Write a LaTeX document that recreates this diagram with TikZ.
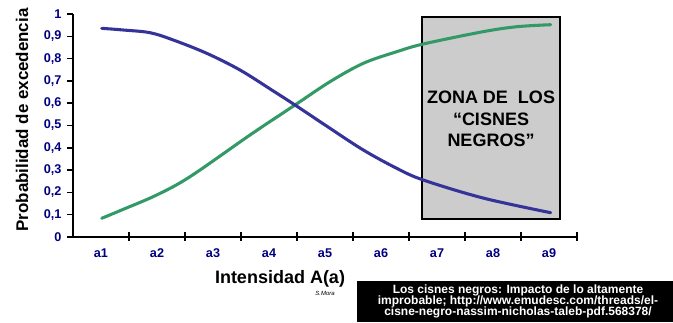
\documentclass[tikz,border=0pt]{standalone}
\usepackage{fontspec}
\setmainfont{Liberation Sans}
\usetikzlibrary{positioning}
\definecolor{curvablue}{RGB}{51,51,153}
\definecolor{curvagreen}{RGB}{51,153,102}
\definecolor{ejenavy}{RGB}{0,0,128}
\definecolor{zonagray}{RGB}{204,204,204}
\tikzset{
  etiq/.style={font=\bfseries\fontsize{9.5}{10}\selectfont, text=ejenavy, inner sep=1pt},
  titulo/.style={font=\bfseries\fontsize{13.5}{16}\selectfont, inner sep=1pt},
  curva/.style={line width=2.3pt, line cap=round},
}

\begin{document}
\begin{tikzpicture}[x=0.75pt,y=-0.75pt]
  \useasboundingbox (0,0) rectangle (673,322);
  \def \ox {73}   % origin, pixels
  \def \oy {237}
  \def \dx {56}   % width of one class a_i
  \def \dy {22.3} % 0.1 of probability

  % zona de los cisnes negros
  \draw[fill=zonagray, line width=0.8pt] (422,17) rectangle (560,219);
  \node[titulo, align=center] (zona) at (491,119)
    {ZONA DE\ \ LOS\\“CISNES\\NEGROS”};

  % curves
  \draw[curva, curvagreen] plot[smooth, tension=0.55] coordinates {
    (101.7,218.3) (123.3,209.3) (156.7,195) (190,176.7) (250,135) (295,105)
    (330,81.7) (363.3,63.3) (396.7,51.7) (423.3,44) (483,31.7) (517,26.7)
    (550.7,24.7)};
  \draw[curva, curvablue] plot[smooth, tension=0.55] coordinates {
    (101.7,28.3) (123.3,30) (150,32.7) (173.3,40) (206.7,53.3) (240,70)
    (273.3,91) (295,105) (330,128.3) (363.3,150) (396.7,168.3) (423.3,180)
    (483,198) (550.7,212.7)};

  % axes
  \coordinate (O) at (\ox,\oy);
  \coordinate (ytop) at (\ox,14);
  \coordinate (xend) at (577,\oy);
  \draw[line width=1.5pt] (ytop) -- (O);
  \draw[line width=1.1pt] (O) -- (xend);

  \foreach \i/\t in {0/0, 1/{0,1}, 2/{0,2}, 3/{0,3}, 4/{0,4}, 5/{0,5},
                     6/{0,6}, 7/{0,7}, 8/{0,8}, 9/{0,9}, 10/1}
  {
    \draw[line width=1.1pt] (\ox-6,\oy-\i*\dy) -- (\ox,\oy-\i*\dy);
    \node[etiq, anchor=east] (y\i) at (63,\oy-\i*\dy) {\t};
  }
  \foreach \i in {1,...,9}
  {
    \draw[line width=1.1pt] (\ox+\i*\dx,\oy-5) -- (\ox+\i*\dx,\oy+4);
    \node[etiq] (a\i) at (\ox+\i*\dx-\dx/2,253) {a\i};
  }

  % axis titles
  \node[titulo] (titx) at (280,279) {Intensidad A(a)};
  \node[font=\bfseries\fontsize{12.7}{14}\selectfont, rotate=90] (tity) at (22,120)
    {Probabilidad de excedencia};

  % source
  \fill (357,281) rectangle (673,322);
  \node[text=white, align=center, font=\bfseries\fontsize{9}{8.5}\selectfont]
    (fuente) at (518,301.5)
    {Los cisnes negros: Impacto de lo altamente\\
     improbable; http://www.emudesc.com/threads/el-\\
     cisne-negro-nassim-nicholas-taleb-pdf.568378/};
  \node[font=\itshape\fontsize{4.5}{5}\selectfont] (firma) at (325,293) {S.Mora};
\end{tikzpicture}
\end{document}
